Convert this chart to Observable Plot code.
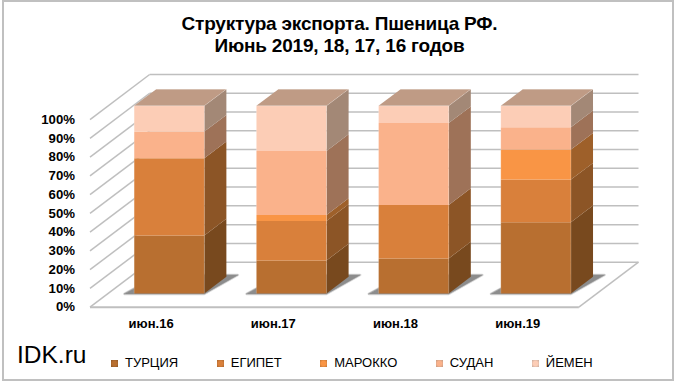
<!DOCTYPE html>
<html><head><meta charset="utf-8">
<script src="https://cdn.jsdelivr.net/npm/d3@7"></script>
<script src="https://cdn.jsdelivr.net/npm/@observablehq/plot@0.6"></script>
<style>
html,body{margin:0;padding:0;background:#fff;width:680px;height:385px;overflow:hidden}
#frame{position:absolute;left:2px;top:0;width:672px;height:381px;border:2px solid #c0c0c0;box-sizing:border-box;}
#wrap{position:absolute;left:0;top:0;width:680px;height:385px;font-family:"Liberation Sans",Arial,sans-serif;color:#000}
#title{height:60px;box-sizing:border-box;padding-top:13px;text-align:center;font-weight:bold;font-size:19px;line-height:22px;margin-left:-1px;letter-spacing:-.2px}
#plot svg{display:block}
#bottom{position:relative;height:55px}
#idk{position:absolute;left:17px;top:11px;font-size:24.5px}
#legend{position:absolute;left:111px;top:25px;display:flex;gap:38.5px;font-size:13px;line-height:16px}
#legend span.k{display:flex;align-items:center;gap:7px}
#legend i{display:block;width:7px;height:7px}
</style></head><body>
<div id="frame"></div>
<div id="wrap">
<div id="title">Структура экспорта. Пшеница РФ.<br>Июнь 2019, 18, 17, 16 годов</div>
<div id="plot"></div>
<div id="bottom"><div id="idk">IDK.ru</div><div id="legend"></div></div>
</div>
<script>
const categories = ["июн.16","июн.17","июн.18","июн.19"];
const series = ["ТУРЦИЯ","ЕГИПЕТ","МАРОККО","СУДАН","ЙЕМЕН"];
const turkey  = [30.9, 17.6, 18.7, 38.0];
const egypt   = [41.2, 21.1, 28.5, 22.7];
const morocco = [0,     3.2,  0,   16.0];
const sudan   = [14.2, 34.1, 43.6, 11.9];
const yemen   = [13.7, 24.0,  9.2, 11.4];
const seriesValues = [turkey, egypt, morocco, sudan, yemen];
const yTicks = [0,10,20,30,40,50,60,70,80,90,100];

const frontColors = ["#b86f30","#d9803b","#f99545","#fab28b","#fccdb6"];
const sideColors  = ["#78491e","#8c5526","#9e602a","#9e7258","#a38876"];
const topColor = "#bf9b85";
const gridColor = "#bfbfbf";
const swatchEdges = ["#8a5424","#a8652e","#bd7434","#c09a84","#c4a99c"];

// oblique projection: depth 1 (front to back of the floor) in data units
const depthX = 0.488, depthY = 24;
const barW = 0.574, barDepthStart = 0.304, barDepth = 0.37;
const proj = (i, v, d) => ({x: i + d*depthX, y: v + d*depthY});

const faces = [];
const shadows = [];
const edges = [];
categories.forEach((c, i) => {
  const l = i - barW/2, r = i + barW/2, d0 = barDepthStart, d1 = barDepthStart + barDepth;
  [[l-0.08,-0.2,d0],[r,-0.2,d0],[r+0.07,-0.2,d1+0.05],[l,-0.2,d1+0.05]].forEach(p => shadows.push({id:"s"+i, ...proj(...p)}));
  let base = 0;
  const side = [], front = [];
  seriesValues.forEach((vals, s) => {
    const v = vals[i];
    if (v <= 0) return;
    const top = base + v;
    [[r,base,d0],[r,base,d1],[r,top,d1],[r,top,d0]].forEach(p => side.push({id:`side${i}-${s}`, color:sideColors[s], ...proj(...p)}));
    [[l,base,d0],[r,base,d0],[r,top,d0],[l,top,d0]].forEach(p => front.push({id:`front${i}-${s}`, color:frontColors[s], ...proj(...p)}));
    base = top;
  });
  [[l,100,d0],[r,100,d0],[r,100,d1],[l,100,d1]].forEach(p => front.push({id:`top${i}`, color:topColor, ...proj(...p)}));
  faces.push(...side, ...front);
  // soft bevel along the bar's visible edges
  [[l,0,d0,l,100,d0],[r,0,d0,r,100,d0],[l,100,d0,r,100,d0],[r,100,d0,r,100,d1],[l,100,d1,r,100,d1]].forEach(e => {
    const a = proj(e[0],e[1],e[2]), b = proj(e[3],e[4],e[5]);
    edges.push({x1:a.x,y1:a.y,x2:b.x,y2:b.y});
  });
});

const x0 = -0.5, x1 = categories.length - 0.5;
const shadowLayer = (w, c) => Plot.line(shadows.concat(), {x: "x", y: "y", z: "id", fill: c, stroke: c, strokeWidth: w, strokeOpacity: 1, fillOpacity: 1, curve: "linear-closed"});
const chart = Plot.plot({
  width: 680, height: 270,
  marginTop: 14, marginBottom: 23.3, marginLeft: 89.5, marginRight: 42,
  x: {domain: [x0, x1 + depthX], axis: null},
  y: {domain: [0, 100 + depthY], axis: null},
  color: {type: "identity"},
  marks: [
    Plot.link(yTicks, {x1: x0 + depthX, x2: x1 + depthX, y1: d => d + depthY, y2: d => d + depthY, stroke: gridColor, strokeWidth: 1.5}),
    Plot.link(yTicks, {x1: x0, x2: x0 + depthX, y1: d => d, y2: d => d + depthY, stroke: gridColor, strokeWidth: 1.5}),
    Plot.link([0], {x1: x0, x2: x1, y1: 0, y2: 0, stroke: gridColor, strokeWidth: 2}),
    Plot.link([0], {x1: x1, x2: x1 + depthX, y1: 0, y2: depthY, stroke: gridColor, strokeWidth: 1.5}),
    shadowLayer(2.5, "#d8d8d8"),
    shadowLayer(1, "#a8a8a8"),
    shadowLayer(0, "#8c8c8c"),
    Plot.line(faces, {x: "x", y: "y", z: "id", fill: "color", stroke: "none", curve: "linear-closed"}),
    Plot.link(edges, {x1: "x1", y1: "y1", x2: "x2", y2: "y2", stroke: "#fff", strokeOpacity: 0.18, strokeWidth: 1}),
    Plot.axisX({anchor: "bottom", ticks: d3.range(categories.length), tickFormat: i => categories[i], tickSize: 0, tickPadding: 12, fontSize: 13, fontWeight: "bold", fontFamily: "Liberation Sans", label: null, color: "#000"}),
    Plot.axisY({anchor: "left", ticks: yTicks, tickFormat: d => d + "%", tickSize: 0, tickPadding: 15, fontSize: 13.2, fontWeight: "bold", fontFamily: "Liberation Sans", label: null, color: "#000"})
  ]
});
document.getElementById("plot").append(chart);

const legend = d3.select("#legend");
series.forEach((name, s) => {
  const k = legend.append("span").attr("class","k");
  k.append("i").style("background", `radial-gradient(circle, ${frontColors[s]} 45%, ${swatchEdges[s]} 100%)`);
  k.append("span").text(name);
});
</script>
</body></html>
